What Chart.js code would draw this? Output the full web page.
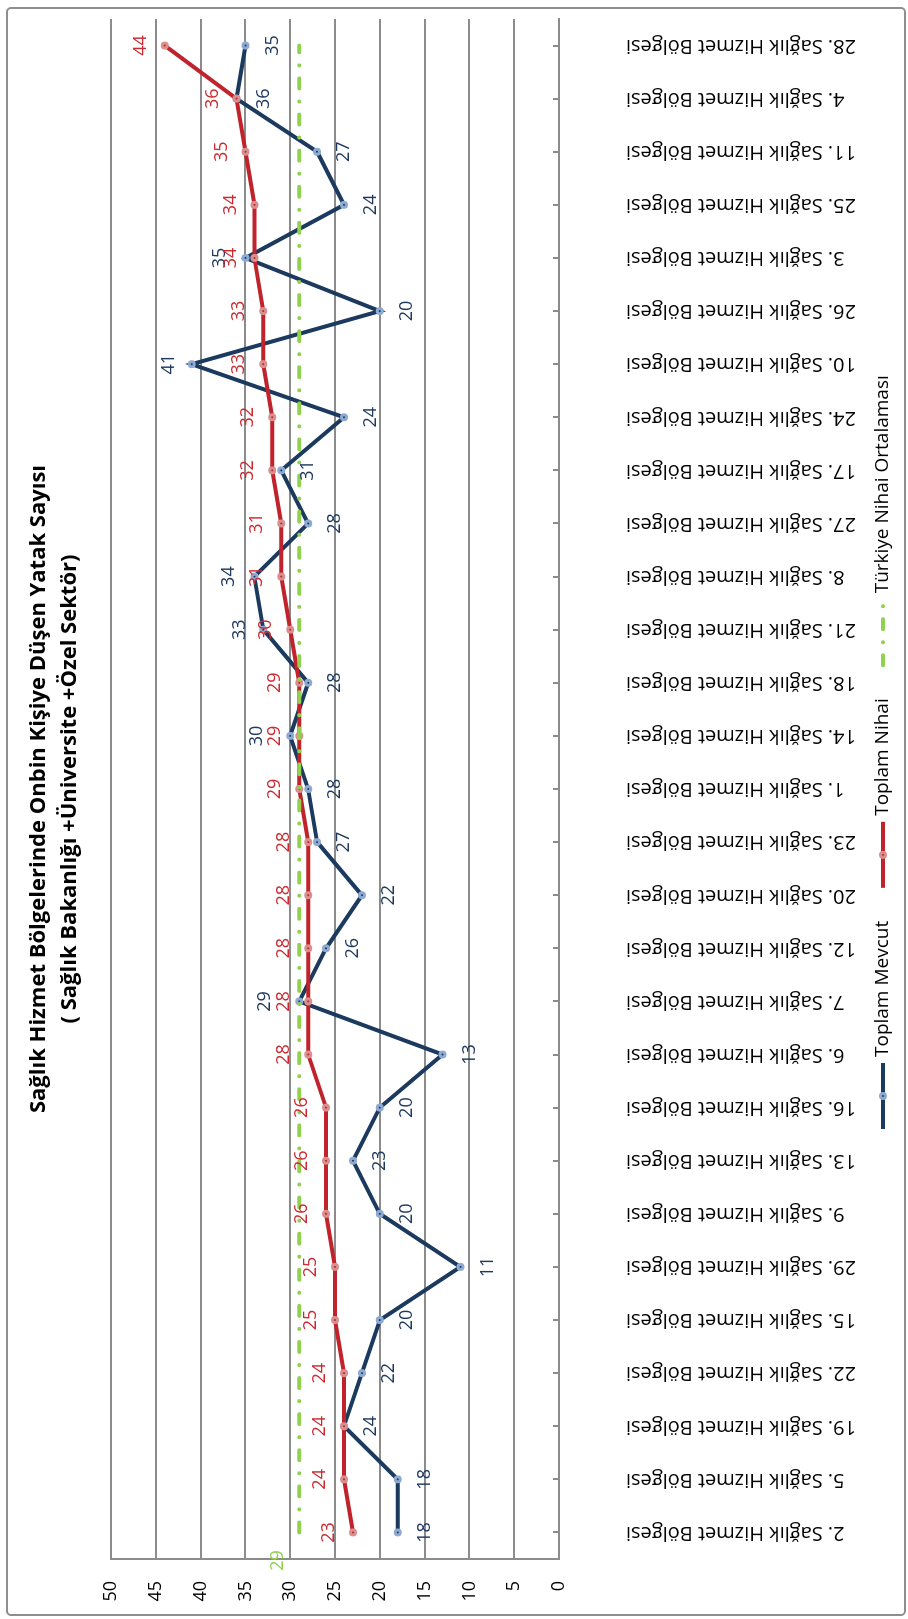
<!DOCTYPE html>
<html lang="tr">
<head>
<meta charset="utf-8">
<title>Sağlık Hizmet Bölgelerinde Onbin Kişiye Düşen Yatak Sayısı</title>
<script src="https://cdn.jsdelivr.net/npm/chart.js@4.4.1/dist/chart.umd.min.js"></script>
<style>
    html, body { margin: 0; padding: 0; background: #fff; overflow: hidden; }
    #page { position: relative; width: 908px; height: 1619px; }
    /* chart is drawn landscape, then turned a quarter to the left */
    #rot { position: absolute; left: 0; top: 0; width: 1619px; height: 908px;
           transform-origin: 0 0; transform: translate(0, 1619px) rotate(-90deg); }
    canvas { display: block; }
</style>
</head>
<body>
<div id="page"><div id="rot"><canvas id="myChart" width="1619" height="908"></canvas></div></div>
<script>
var bolgeler = [
    "2. Sağlık Hizmet Bölgesi", "5. Sağlık Hizmet Bölgesi", "19. Sağlık Hizmet Bölgesi",
    "22. Sağlık Hizmet Bölgesi", "15. Sağlık Hizmet Bölgesi", "29. Sağlık Hizmet Bölgesi",
    "9. Sağlık Hizmet Bölgesi", "13. Sağlık Hizmet Bölgesi", "16. Sağlık Hizmet Bölgesi",
    "6. Sağlık Hizmet Bölgesi", "7. Sağlık Hizmet Bölgesi", "12. Sağlık Hizmet Bölgesi",
    "20. Sağlık Hizmet Bölgesi", "23. Sağlık Hizmet Bölgesi", "1. Sağlık Hizmet Bölgesi",
    "14. Sağlık Hizmet Bölgesi", "18. Sağlık Hizmet Bölgesi", "21. Sağlık Hizmet Bölgesi",
    "8. Sağlık Hizmet Bölgesi", "27. Sağlık Hizmet Bölgesi", "17. Sağlık Hizmet Bölgesi",
    "24. Sağlık Hizmet Bölgesi", "10. Sağlık Hizmet Bölgesi", "26. Sağlık Hizmet Bölgesi",
    "3. Sağlık Hizmet Bölgesi", "25. Sağlık Hizmet Bölgesi", "11. Sağlık Hizmet Bölgesi",
    "4. Sağlık Hizmet Bölgesi", "28. Sağlık Hizmet Bölgesi"
];
var toplamMevcut = [18, 18, 24, 22, 20, 11, 20, 23, 20, 13, 29, 26, 22, 27, 28, 30, 28, 33, 34, 28, 31, 24, 41, 20, 35, 24, 27, 36, 35];
var toplamNihai = [23, 24, 24, 24, 25, 25, 26, 26, 26, 28, 28, 28, 28, 28, 29, 29, 29, 30, 31, 31, 32, 32, 33, 33, 34, 34, 35, 36, 44];
var turkiyeOrtalamasi = [29, 29, 29, 29, 29, 29, 29, 29, 29, 29, 29, 29, 29, 29, 29, 29, 29, 29, 29, 29, 29, 29, 29, 29, 29, 29, 29, 29, 29];
var yTicks = [0, 5, 10, 15, 20, 25, 30, 35, 40, 45, 50];
var seriesNames = ["Toplam Mevcut", "Toplam Nihai", "Türkiye Nihai Ortalaması"];
var titleLines = ["Sağlık Hizmet Bölgelerinde Onbin Kişiye Düşen Yatak Sayısı", "( Sağlık Bakanlığı +Üniversite +Özel Sektör)"];

// label placement for Toplam Mevcut: these points carry their label above, the rest below
var mevcutAbove = { 10: -34, 15: -33, 17: -23, 18: -26, 22: -23, 24: -26 };

var FONT = "'Open Sans', 'DejaVu Sans', sans-serif";
var GRID = "#8c8c8c";

// white page + outer frame
var framePlugin = {
    id: "frame",
    beforeDraw: function (chart) {
        var ctx = chart.ctx;
        ctx.save();
        ctx.fillStyle = "#fff";
        ctx.fillRect(0, 0, chart.width, chart.height);
        ctx.strokeStyle = "#8e8e8e";
        ctx.lineWidth = 2;
        ctx.beginPath();
        ctx.roundRect(4, 7, 1607, 898, 4);
        ctx.stroke();
        ctx.restore();
    }
};

// small inward tick marks on the category axis
var catTicksPlugin = {
    id: "catTicks",
    afterDraw: function (chart) {
        var x = chart.scales.x, ctx = chart.ctx, b = chart.chartArea.bottom;
        ctx.save();
        ctx.strokeStyle = GRID;
        ctx.lineWidth = 2;
        ctx.beginPath();
        for (var i = 0; i < bolgeler.length; i++) {
            var px = Math.round(x.getPixelForValue(i));
            ctx.moveTo(px, b);
            ctx.lineTo(px, b - 6);
        }
        ctx.stroke();
        ctx.restore();
    }
};

// value labels next to points
var labelPlugin = {
    id: "valueLabels",
    afterDatasetsDraw: function (chart) {
        var ctx = chart.ctx;
        ctx.save();
        ctx.font = "18px " + FONT;
        ctx.textAlign = "center";
        ctx.textBaseline = "middle";
        chart.data.datasets.forEach(function (ds, di) {
            var meta = chart.getDatasetMeta(di);
            var lab = ds.valueLabel;
            if (!lab) return;
            ctx.fillStyle = lab.color;
            meta.data.forEach(function (pt, i) {
                if (lab.onlyFirst && i > 0) return;
                var dy = lab.dy;
                if (lab.above && lab.above[i] !== undefined) dy = lab.above[i];
                ctx.fillText(String(Math.round(ds.data[i])), pt.x + lab.dx, pt.y + dy);
            });
        });
        ctx.restore();
    }
};

// legend drawn as line + marker samples
var legendPlugin = {
    id: "lineLegend",
    afterDraw: function (chart) {
        var ctx = chart.ctx;
        var y = 883, x = 490, lineLen = 66;
        ctx.save();
        ctx.font = "19px " + FONT;
        ctx.textBaseline = "middle";
        chart.data.datasets.forEach(function (ds) {
            ctx.strokeStyle = ds.borderColor;
            ctx.lineWidth = ds.borderWidth;
            ctx.lineCap = ds.borderCapStyle || "butt";
            ctx.setLineDash(ds.borderDash || []);
            ctx.beginPath();
            ctx.moveTo(x, y);
            ctx.lineTo(x + lineLen, y);
            ctx.stroke();
            ctx.setLineDash([]);
            if (ds.pointRadius > 0) {
                ctx.beginPath();
                ctx.arc(x + lineLen / 2, y, ds.pointRadius, 0, Math.PI * 2);
                ctx.fillStyle = ds.pointBackgroundColor;
                ctx.fill();
                ctx.lineWidth = ds.pointBorderWidth;
                ctx.strokeStyle = ds.pointBorderColor;
                ctx.stroke();
            }
            ctx.fillStyle = "#000";
            ctx.fillText(ds.label, x + lineLen + 6, y);
            x += lineLen + 6 + ctx.measureText(ds.label).width + 33;
        });
        ctx.restore();
    }
};

var ctx = document.getElementById("myChart").getContext("2d");
var myChart = new Chart(ctx, {
    type: "line",
    data: {
        labels: bolgeler,
        datasets: [{
            label: seriesNames[0],
            data: toplamMevcut,
            borderColor: "#1b3a5e",
            borderWidth: 4,
            pointRadius: 2.5,
            pointBorderWidth: 3,
            pointBorderColor: "#8faad2",
            pointBackgroundColor: "#1b3a5e",
            order: 3,
            valueLabel: { color: "#1f3a60", dx: 0, dy: 27, above: mevcutAbove }
        }, {
            label: seriesNames[1],
            data: toplamNihai,
            borderColor: "#c0232b",
            borderWidth: 4,
            pointRadius: 2.5,
            pointBorderWidth: 3,
            pointBorderColor: "#d98f8e",
            pointBackgroundColor: "#c0232b",
            order: 2,
            valueLabel: { color: "#cc2a30", dx: 0, dy: -24 }
        }, {
            label: seriesNames[2],
            data: turkiyeOrtalamasi,
            borderColor: "#92d050",
            borderWidth: 4,
            borderCapStyle: "round",
            borderDash: [10, 13, 0.1, 13],
            pointRadius: 0,
            order: 1,
            valueLabel: { color: "#92d050", dx: -28, dy: -21, onlyFirst: true }
        }]
    },
    options: {
        responsive: false,
        animation: false,
        layout: { padding: { left: 0, right: 19, top: 0, bottom: 0 } },
        plugins: {
            legend: { display: false },
            tooltip: { enabled: false },
            title: {
                display: true,
                text: titleLines,
                fullSize: false,
                color: "#000",
                font: { family: FONT, size: 22, weight: "bold", lineHeight: 1.41 },
                padding: { top: 23, bottom: 26 }
            }
        },
        scales: {
            x: {
                offset: true,
                grid: { display: false },
                border: { display: true, color: GRID, width: 2 },
                ticks: {
                    autoSkip: false, minRotation: 90, maxRotation: 90,
                    padding: 59, color: "#000",
                    font: { family: FONT, size: 20 }
                },
                afterFit: function (s) { s.height = 349; s.paddingLeft = 0; s.paddingRight = 0; }
            },
            y: {
                min: 0, max: 50,
                afterBuildTicks: function (s) { s.ticks = yTicks.map(function (v) { return { value: v }; }); },
                grid: { color: GRID, lineWidth: 2, drawTicks: false },
                border: { display: true, color: GRID, width: 2 },
                ticks: { padding: 22, color: "#000", font: { family: FONT, size: 18 } },
                afterFit: function (s) { s.width = 60; }
            }
        }
    },
    plugins: [framePlugin, catTicksPlugin, labelPlugin, legendPlugin]
});
</script>
</body>
</html>
